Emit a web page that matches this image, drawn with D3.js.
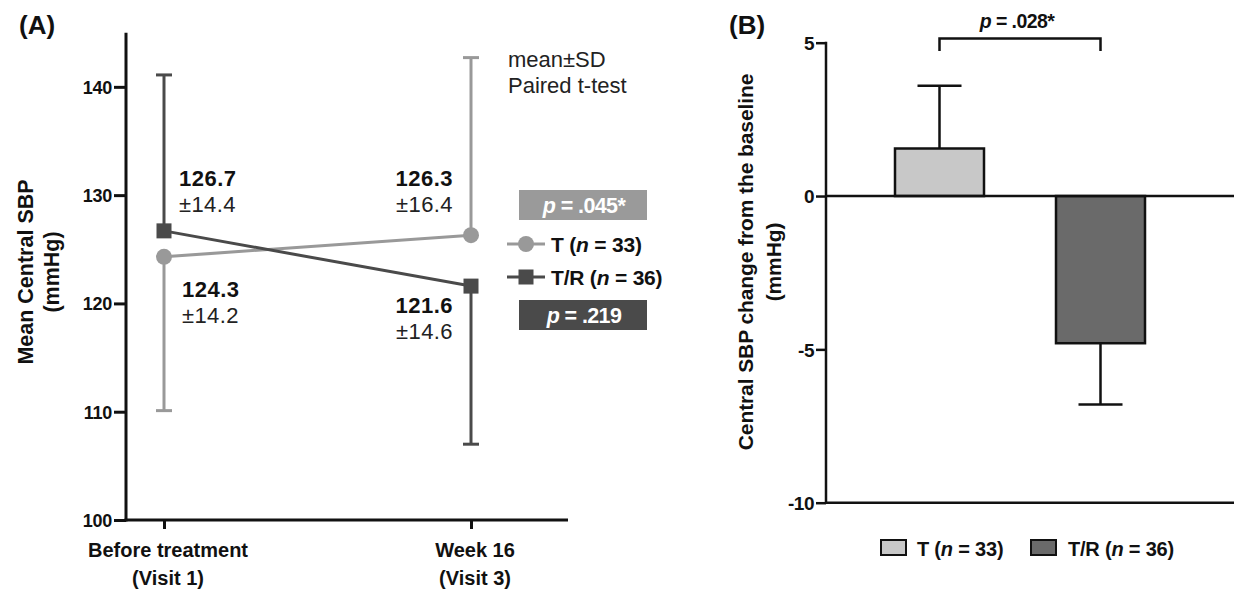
<!DOCTYPE html>
<html><head><meta charset="utf-8">
<script src="https://cdn.jsdelivr.net/npm/d3@7"></script>
<style>
body{margin:0;background:#fff;}
text{font-family:"Liberation Sans",Arial,Helvetica,sans-serif;}
</style></head>
<body><svg id="c" width="1234" height="590"></svg>
<script>
// ---- Panel A data ----
const visits = ["Before treatment|(Visit 1)", "Week 16|(Visit 3)"];
const seriesNames = ["T (n = 33)", "T/R (n = 36)"];
const meanT = [124.3, 126.3];
const sdT = [14.2, 16.4];
const meanTR = [126.7, 121.6];
const sdTR = [14.4, 14.6];
const errDirT = [-1, 1];   // SD drawn below / above
const errDirTR = [1, -1];
const yTicksA = [100, 110, 120, 130, 140];
const pValuesA = ["p = .045*", "p = .219"];
// ---- Panel B data ----
const groupsB = ["T (n = 33)", "T/R (n = 36)"];
const changeB = [1.55, -4.8];
const errB = [2.05, 2.0];
const yTicksB = [-10, -5, 0, 5];
const pValueB = "p = .028*";

const svg = d3.select("#c");
const colT = "#999999", colTR = "#4a4a4a";
const FF = '"Liberation Sans",Arial,Helvetica,sans-serif';

// ================= Panel A =================
const yA = d3.scaleLinear().domain([100, 145]).range([520, 32.7]);
const xA = d3.scalePoint().domain(visits).range([164, 471]);
const axLeftA = 126, axRightA = 568;

const gA = svg.append("g");
gA.append("text").attr("x", 19).attr("y", 34).attr("font-size", 26).attr("font-weight", "bold").attr("fill", "#111").text("(A)");

// y axis
const yAxisA = d3.axisLeft(yA).tickValues(yTicksA).tickSize(12).tickPadding(2).tickFormat(d => String(d));
const gyA = gA.append("g").attr("transform", `translate(${axLeftA},0)`).call(yAxisA);
gyA.select(".domain").remove();
gyA.selectAll(".tick line").attr("stroke", "#111").attr("stroke-width", 3);
gyA.selectAll(".tick text").attr("font-size", 18).attr("font-weight", "bold").attr("fill", "#111")
  .style("font-family", FF).attr("dy", "0.36em").attr("letter-spacing", "-0.3");
gA.append("line").attr("x1", axLeftA).attr("x2", axLeftA).attr("y1", yA(145)).attr("y2", yA(100) + 1.5)
  .attr("stroke", "#111").attr("stroke-width", 3);
// x axis
gA.append("line").attr("x1", axLeftA - 1.5).attr("x2", axRightA).attr("y1", yA(100)).attr("y2", yA(100))
  .attr("stroke", "#111").attr("stroke-width", 3);
const xAxisA = d3.axisBottom(xA).tickSize(9).tickFormat("");
const gxA = gA.append("g").attr("transform", `translate(0,${yA(100)})`).call(xAxisA);
gxA.select(".domain").remove();
gxA.selectAll(".tick line").attr("stroke", "#111").attr("stroke-width", 3);
visits.forEach(v => {
  const parts = v.split("|");
  const t = gA.append("text").attr("x", xA(v) + 4).attr("text-anchor", "middle").attr("font-size", 20)
    .attr("font-weight", "bold").attr("fill", "#111");
  t.append("tspan").attr("x", xA(v) + 4).attr("y", 557).text(parts[0]);
  t.append("tspan").attr("x", xA(v) + 4).attr("y", 585).text(parts[1]);
});

// y label
const ylA = gA.append("text").attr("transform", "translate(33,272) rotate(-90)").attr("text-anchor", "middle")
  .attr("font-size", 21.5).attr("font-weight", "bold").attr("fill", "#111");
ylA.append("tspan").attr("x", 0).attr("y", 0).text("Mean Central SBP");
ylA.append("tspan").attr("x", 0).attr("y", 26).text("(mmHg)");

// error bars
function errBar(g, x, m, sd, dir, col) {
  const end = m + dir * sd;
  g.append("line").attr("x1", x).attr("x2", x).attr("y1", yA(m)).attr("y2", yA(end)).attr("stroke", col).attr("stroke-width", 3);
  g.append("line").attr("x1", x - 8).attr("x2", x + 8).attr("y1", yA(end)).attr("y2", yA(end)).attr("stroke", col).attr("stroke-width", 3);
}
visits.forEach((v, i) => {
  errBar(gA, xA(v), meanT[i], sdT[i], errDirT[i], colT);
  errBar(gA, xA(v), meanTR[i], sdTR[i], errDirTR[i], colTR);
});
// lines
const lineA = d3.line().x((d, i) => xA(visits[i])).y(d => yA(d));
gA.append("path").attr("d", lineA(meanT)).attr("fill", "none").attr("stroke", colT).attr("stroke-width", 3);
gA.append("path").attr("d", lineA(meanTR)).attr("fill", "none").attr("stroke", colTR).attr("stroke-width", 3);
// markers
visits.forEach((v, i) => {
  gA.append("circle").attr("cx", xA(v)).attr("cy", yA(meanT[i])).attr("r", 8).attr("fill", colT);
  gA.append("rect").attr("x", xA(v) - 7.5).attr("y", yA(meanTR[i]) - 7.5).attr("width", 15).attr("height", 15).attr("fill", colTR);
});

// value labels
function valLabel(x, yBase, anchor, m, sd) {
  gA.append("text").attr("x", x).attr("y", yBase).attr("text-anchor", anchor).attr("font-size", 22)
    .attr("font-weight", "bold").attr("letter-spacing", "0.5").attr("fill", "#111").text(m.toFixed(1));
  gA.append("text").attr("x", x).attr("y", yBase + 26).attr("text-anchor", anchor).attr("font-size", 22)
    .attr("letter-spacing", "0.4").attr("fill", "#222").text("±" + sd.toFixed(1));
}
valLabel(179, 186, "start", meanTR[0], sdTR[0]);
valLabel(182, 297, "start", meanT[0], sdT[0]);
valLabel(453, 186, "end", meanT[1], sdT[1]);
valLabel(453, 313, "end", meanTR[1], sdTR[1]);

// notes
gA.append("text").attr("x", 508).attr("y", 67).attr("font-size", 22).attr("fill", "#222").text("mean±SD");
gA.append("text").attr("x", 508).attr("y", 93).attr("font-size", 22).attr("fill", "#222").text("Paired t-test");

// p-boxes
function pBox(y, fill, txt) {
  gA.append("rect").attr("x", 519).attr("y", y).attr("width", 128).attr("height", 30).attr("fill", fill);
  const t = gA.append("text").attr("x", 584).attr("y", y + 22.5).attr("text-anchor", "middle").attr("font-size", 21.5)
    .attr("font-weight", "bold").attr("fill", "#fff").attr("letter-spacing", "-0.6");
  const parts = txt.split(" = ");
  t.append("tspan").attr("font-style", "italic").text(parts[0]);
  t.append("tspan").text(" = " + parts[1]);
}
pBox(190, "#9a9a9a", pValuesA[0]);
pBox(300, "#4a4a4a", pValuesA[1]);

// legend
function legText(g, x, y, s, size) {
  const t = g.append("text").attr("x", x).attr("y", y).attr("font-size", size).attr("font-weight", "bold")
    .attr("fill", "#111").attr("letter-spacing", "-0.2");
  const m = s.match(/^(.*\()n( = .*)$/);
  t.append("tspan").text(m[1]);
  t.append("tspan").attr("font-style", "italic").text("n");
  t.append("tspan").text(m[2]);
}
[[seriesNames[0], 244, colT, "c"], [seriesNames[1], 277, colTR, "s"]].forEach(([nm, y, col, shp]) => {
  gA.append("line").attr("x1", 507).attr("x2", 545).attr("y1", y).attr("y2", y).attr("stroke", col).attr("stroke-width", 3);
  if (shp === "c") gA.append("circle").attr("cx", 526).attr("cy", y).attr("r", 8).attr("fill", col);
  else gA.append("rect").attr("x", 518.5).attr("y", y - 7.5).attr("width", 15).attr("height", 15).attr("fill", col);
  legText(gA, 551, y + 8, nm, 21);
});

// ================= Panel B =================
const yB = d3.scaleLinear().domain([-10, 5]).range([502.7, 42.7]);
const xB = d3.scalePoint().domain(groupsB).range([939.5, 1100.5]);
const axLeftB = 826;
const barW = 89;
const colsB = ["#c8c8c8", "#6a6a6a"];
const gB = svg.append("g");
gB.append("text").attr("x", 729).attr("y", 34).attr("font-size", 26).attr("font-weight", "bold").attr("fill", "#111").text("(B)");

const yAxisB = d3.axisLeft(yB).tickValues(yTicksB).tickSize(10).tickPadding(2).tickFormat(d => String(d));
const gyB = gB.append("g").attr("transform", `translate(${axLeftB},0)`).call(yAxisB);
gyB.select(".domain").remove();
gyB.selectAll(".tick line").attr("stroke", "#111").attr("stroke-width", 2.5);
gyB.selectAll(".tick text").attr("font-size", 19).attr("font-weight", "bold").attr("fill", "#111")
  .style("font-family", FF).attr("dy", "0.36em").attr("letter-spacing", "-0.5");
gB.append("line").attr("x1", axLeftB).attr("x2", axLeftB).attr("y1", yB(5) - 1).attr("y2", yB(-10) + 1)
  .attr("stroke", "#111").attr("stroke-width", 2.5);
gB.append("line").attr("x1", axLeftB).attr("x2", 1234).attr("y1", yB(-10)).attr("y2", yB(-10)).attr("stroke", "#111").attr("stroke-width", 2.5);

// bars
groupsB.forEach((g, i) => {
  const v = changeB[i];
  const cx = xB(g);
  const end = v + Math.sign(v) * errB[i];
  gB.append("line").attr("x1", cx).attr("x2", cx).attr("y1", yB(v)).attr("y2", yB(end)).attr("stroke", "#111").attr("stroke-width", 2.5);
  gB.append("line").attr("x1", cx - 22).attr("x2", cx + 22).attr("y1", yB(end)).attr("y2", yB(end)).attr("stroke", "#111").attr("stroke-width", 2.5);
  gB.append("rect").attr("x", cx - barW / 2).attr("y", yB(Math.max(0, v))).attr("width", barW)
    .attr("height", Math.abs(yB(v) - yB(0))).attr("fill", colsB[i]).attr("stroke", "#111").attr("stroke-width", 2.5);
});
// zero line
gB.append("line").attr("x1", axLeftB).attr("x2", 1234).attr("y1", yB(0)).attr("y2", yB(0)).attr("stroke", "#111").attr("stroke-width", 2.5);

// bracket
const bx1 = xB(groupsB[0]), bx2 = xB(groupsB[1]);
gB.append("path").attr("d", `M${bx1},51 V38.5 H${bx2} V51`).attr("fill", "none").attr("stroke", "#111").attr("stroke-width", 2.5);
const pt = gB.append("text").attr("x", (bx1 + bx2) / 2 - 3).attr("y", 28).attr("text-anchor", "middle").attr("font-size", 19.5)
  .attr("font-weight", "bold").attr("fill", "#111").attr("letter-spacing", "-0.6");
pt.append("tspan").attr("font-style", "italic").text(pValueB.split(" = ")[0]);
pt.append("tspan").text(" = " + pValueB.split(" = ")[1]);

// y label B
const ylB = gB.append("text").attr("transform", "translate(753,262) rotate(-90)").attr("text-anchor", "middle")
  .attr("font-size", 21).attr("font-weight", "bold").attr("letter-spacing", "-0.1").attr("fill", "#111");
ylB.append("tspan").attr("x", 0).attr("y", 0).text("Central SBP change from the baseline");
ylB.append("tspan").attr("x", 0).attr("y", 28).text("(mmHg)");

// legend B
[[881, 917], [1031, 1068]].forEach(([sx, tx], i) => {
  gB.append("rect").attr("x", sx).attr("y", 540).attr("width", 25).attr("height", 15).attr("fill", colsB[i]).attr("stroke", "#111").attr("stroke-width", 2);
  legText(gB, tx, 556, groupsB[i], 20);
});
</script>
</body></html>
